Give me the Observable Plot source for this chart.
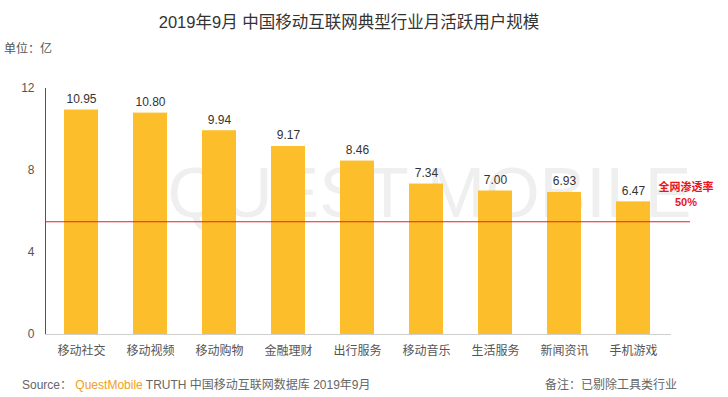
<!DOCTYPE html>
<html>
<head>
<meta charset="utf-8">
<script src="https://cdn.jsdelivr.net/npm/d3@7"></script>
<script src="https://cdn.jsdelivr.net/npm/@observablehq/plot@0.6"></script>
<style>
  html, body { margin:0; padding:0; background:#fff; }
  #wrap { position:relative; width:728px; height:397px; overflow:hidden;
    font-family:"Liberation Sans","Noto Sans CJK SC",sans-serif; color:#555; }
  #wrap svg { position:absolute; left:0; top:0; }
  #wrap g[aria-label="y-axis"] .domain,
  #wrap g[aria-label="y-axis line"],
  #wrap g[aria-label="y-axis line"] * { stroke:#d2d2d2 !important; }
  .ov { position:absolute; white-space:nowrap; }
</style>
</head>
<body>
<div id="wrap">
  <div class="ov" id="title" style="left:0;width:698px;top:9px;text-align:center;font-size:16.5px;color:#333;">2019年9月 中国移动互联网典型行业月活跃用户规模</div>
  <div class="ov" style="left:4px;top:39px;font-size:12px;color:#555;">单位：亿</div>
  <div class="ov" style="left:22px;top:375px;font-size:12px;color:#666;">Source：<span style="color:#f0a020;"> QuestMobile</span> TRUTH 中国移动互联网数据库 2019年9月</div>
  <div class="ov" style="left:545px;top:375px;font-size:12px;color:#666;">备注：已剔除工具类行业</div>
  <div class="ov" style="left:652px;width:68px;top:180px;text-align:center;font-size:11px;font-weight:bold;color:#e8141e;line-height:15px;">全网渗透率<br>50%</div>
</div>
<script>
const categories = ["移动社交","移动视频","移动购物","金融理财","出行服务","移动音乐","生活服务","新闻资讯","手机游戏"];
const values = [10.95, 10.80, 9.94, 9.17, 8.46, 7.34, 7.00, 6.93, 6.47];
const yTicks = [0, 4, 8, 12];
const penetrationLine = 5.5;
const watermark = ["QUEST MOBILE"];

const data = categories.map((c, i) => ({cat: c, value: values[i]}));

const chart = Plot.plot({
  width: 728,
  height: 397,
  marginLeft: 45,
  marginRight: 38,
  marginTop: 88,
  marginBottom: 63,
  style: {background: "transparent", fontFamily: "'Liberation Sans','Noto Sans CJK SC',sans-serif", fontSize: "12px", color: "#555"},
  x: {domain: categories, paddingInner: 0.51, paddingOuter: 0.395, align: 0.327, label: null, tickSize: 0, tickPadding: 12},
  y: {domain: [0, 12], ticks: yTicks, tickSize: 0, tickPadding: 11, label: null, line: true},
  marks: [
    Plot.text(watermark, {frameAnchor: "top-left", dx: 122, dy: 79, text: d => d, fontSize: 70, fill: "#efefef", textAnchor: "start", letterSpacing: -1}),
    Plot.barY(data, {x: "cat", y: "value", fill: "#FCBF2B"}),
    Plot.ruleY([0], {stroke: "#cfcfcf", insetRight: 19}),
    Plot.ruleY([penetrationLine], {stroke: "#e62020", strokeWidth: 1}),
    Plot.text(data, {x: "cat", y: "value", text: d => d.value.toFixed(2), dy: -11, fill: "#333", fontSize: 12})
  ]
});
document.getElementById("wrap").prepend(chart);
</script>
</body>
</html>
